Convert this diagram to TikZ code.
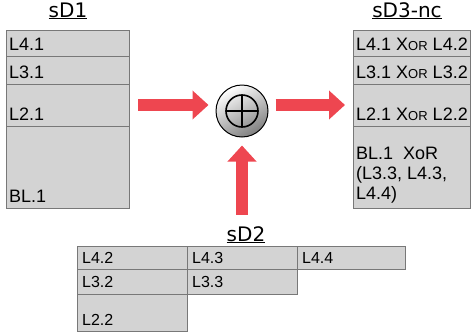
\documentclass[tikz,border=0pt]{standalone}
\usepackage{fontspec}
\setmainfont{Liberation Sans}
\newfontfamily\titlefont{DejaVu Sans}
\usetikzlibrary{arrows.meta}
\definecolor{cellgray}{RGB}{211,211,211}
\definecolor{celledge}{RGB}{120,120,120}
\definecolor{arrowred}{RGB}{238,70,80}
\newcommand{\xorsc}{X{\fontsize{13pt}{13pt}\selectfont OR}}

\begin{document}
\begin{tikzpicture}[x=1pt,y=-1pt,
  cell/.style={draw=celledge, fill=cellgray, line width=0.8pt, inner sep=0pt, outer sep=0pt, anchor=north west},
  celltext/.style={inner sep=0pt, anchor=base west, font=\fontsize{18pt}{20pt}\selectfont},
  smalltext/.style={inner sep=0pt, anchor=base west, font=\fontsize{16pt}{18pt}\selectfont},
  title/.style={inner sep=0pt, anchor=base, font=\titlefont\fontsize{20pt}{22pt}\selectfont},
  bigarrow/.style={draw=arrowred, line width=12pt, -{Triangle[width=28pt,length=16pt]}}]
\useasboundingbox (0,0) rectangle (471,335);

\node[title] (t1) at (68,17) {\underline{sD1}};
\node[title] (t3) at (407,17) {\underline{sD3-nc}};
\node[title] (t2) at (246,241) {\underline{sD2}};

\node[cell, minimum width=123pt, minimum height=26pt] (d1r1) at (6,30) {};
\node[cell, minimum width=123pt, minimum height=28pt] (d1r2) at (6,56) {};
\node[cell, minimum width=123pt, minimum height=42pt] (d1r3) at (6,84) {};
\node[cell, minimum width=123pt, minimum height=82pt] (d1r4) at (6,126) {};
\node[celltext] (l41) at ([xshift=3pt,yshift=6pt]d1r1.south west) {L4.1};
\node[celltext] (l31) at ([xshift=3pt,yshift=6pt]d1r2.south west) {L3.1};
\node[celltext] (l21) at ([xshift=3pt,yshift=6pt]d1r3.south west) {L2.1};
\node[celltext] (bl1) at ([xshift=3pt,yshift=6pt]d1r4.south west) {BL.1};

\node[cell, minimum width=117pt, minimum height=26pt] (d3r1) at (353,30) {};
\node[cell, minimum width=117pt, minimum height=28pt] (d3r2) at (353,56) {};
\node[cell, minimum width=117pt, minimum height=42pt] (d3r3) at (353,84) {};
\node[cell, minimum width=117pt, minimum height=82pt] (d3r4) at (353,126) {};
\node[celltext] (x4) at ([xshift=3pt,yshift=6pt]d3r1.south west) {L4.1 \xorsc{} L4.2};
\node[celltext] (x3) at ([xshift=3pt,yshift=6pt]d3r2.south west) {L3.1 \xorsc{} L3.2};
\node[celltext] (x2) at ([xshift=3pt,yshift=6pt]d3r3.south west) {L2.1 \xorsc{} L2.2};
\node[celltext, anchor=north west, align=left] (xb) at ([xshift=3pt,yshift=-21pt]d3r4.north west) {BL.1\ \ XoR\\(L3.3, L4.3,\\L4.4)};

\node[cell, minimum width=110pt, minimum height=23pt] (d2a) at (77,246) {};
\node[cell, minimum width=110pt, minimum height=23pt] (d2b) at (187,246) {};
\node[cell, minimum width=108pt, minimum height=23pt] (d2c) at (297,246) {};
\node[cell, minimum width=110pt, minimum height=25pt] (d2d) at (77,269) {};
\node[cell, minimum width=110pt, minimum height=25pt] (d2e) at (187,269) {};
\node[cell, minimum width=110pt, minimum height=37pt] (d2f) at (77,294) {};
\node[smalltext] (l42) at ([xshift=5pt,yshift=6pt]d2a.south west) {L4.2};
\node[smalltext] (l43) at ([xshift=5pt,yshift=6pt]d2b.south west) {L4.3};
\node[smalltext] (l44) at ([xshift=5pt,yshift=6pt]d2c.south west) {L4.4};
\node[smalltext] (l32) at ([xshift=5pt,yshift=7pt]d2d.south west) {L3.2};
\node[smalltext] (l33) at ([xshift=5pt,yshift=7pt]d2e.south west) {L3.3};
\node[smalltext] (l22) at ([xshift=5pt,yshift=6pt]d2f.south west) {L2.2};

\node[circle, draw=black, line width=1pt, minimum size=52pt, inner sep=0pt,
  top color=white, bottom color=black!50, shading angle=30] (xor) at (242,111) {};
\draw[line width=1.6pt] (xor.center) circle (16pt);
\draw[line width=1.6pt] ([xshift=-16pt]xor.center) -- ([xshift=16pt]xor.center);
\draw[line width=1.6pt] ([yshift=-16pt]xor.center) -- ([yshift=16pt]xor.center);

\draw[bigarrow, shorten <=9pt, shorten >=7pt] (d1r3.east) -- (xor.west |- d1r3.east);
\draw[bigarrow, shorten <=7pt, shorten >=8pt] (xor.east |- d3r3.west) -- (d3r3.west);
\draw[bigarrow, shorten <=11pt, shorten >=8pt] (xor.south |- t2.north) -- (xor.south);
\end{tikzpicture}
\end{document}
